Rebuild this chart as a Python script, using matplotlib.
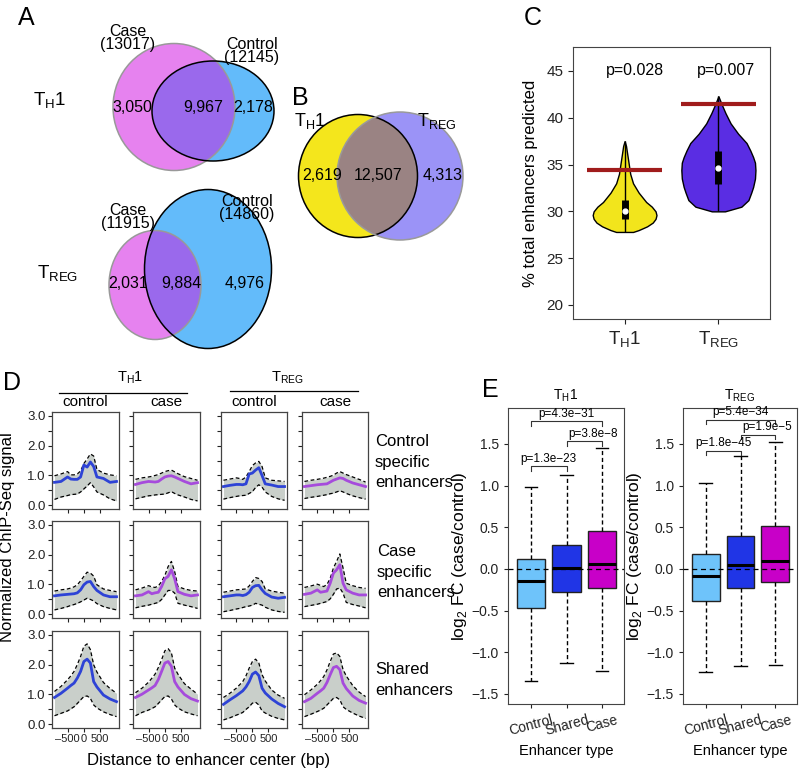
import matplotlib.pyplot as plt
from matplotlib.patches import Ellipse

plt.rcParams['font.family'] = ['Liberation Sans', 'DejaVu Sans']

# ---- panel A / B : venn counts ----
th1_counts = [3050, 9967, 2178]      # case only, shared, control only
th1_totals = [13017, 12145]          # case, control
treg_counts = [2031, 9884, 4976]
treg_totals = [11915, 14860]
b_counts = [2619, 12507, 4313]       # TH1 only, shared, TREG only

# ---- panel C : violin profiles (value, half width) ----
c_th1_y = [27.8, 28.0, 28.4, 28.8, 29.2, 29.6, 30.0, 30.5, 31.0, 31.5, 32.0, 33.0, 34.0, 35.0, 36.0, 37.0, 37.5]
c_th1_w = [0.09, 0.15, 0.24, 0.30, 0.33, 0.34, 0.33, 0.29, 0.23, 0.19, 0.15, 0.09, 0.06, 0.045, 0.03, 0.015, 0.0]
c_treg_y = [30.0, 30.5, 31.2, 32.0, 32.6, 33.5, 34.4, 35.2, 35.8, 36.5, 37.3, 38.3, 39.4, 40.5, 41.5, 42.3]
c_treg_w = [0.07, 0.245, 0.32, 0.35, 0.37, 0.39, 0.395, 0.39, 0.37, 0.34, 0.30, 0.21, 0.13, 0.075, 0.032, 0.0]
c_box = [[29.2, 30.0, 31.2], [32.9, 34.6, 36.4]]   # q1, median, q3
c_observed = [34.4, 41.5]
c_pvals = ["p=0.028", "p=0.007"]

# ---- panel D : ChIP-Seq profiles, columns = TH1 control, TH1 case, TREG control, TREG case ----
d_x = [-900, -700, -500, -400, -300, -200, -100, 0, 100, 200, 300, 400, 600, 800, 1000]

ctrl_spec_mean = [
    [0.77, 0.80, 0.95, 0.88, 0.87, 0.87, 0.95, 1.35, 1.28, 1.45, 1.30, 0.95, 0.90, 0.77, 0.80],
    [0.70, 0.76, 0.80, 0.79, 0.78, 0.80, 0.88, 0.95, 0.98, 0.99, 0.95, 0.90, 0.80, 0.72, 0.76],
    [0.63, 0.67, 0.70, 0.70, 0.69, 0.72, 1.05, 1.08, 1.18, 1.26, 1.00, 0.72, 0.68, 0.63, 0.63],
    [0.63, 0.66, 0.69, 0.70, 0.71, 0.72, 0.78, 0.84, 0.88, 0.92, 0.90, 0.84, 0.75, 0.69, 0.63],
]
ctrl_spec_upper = [
    [0.99, 1.05, 1.13, 1.02, 1.02, 1.05, 1.15, 1.40, 1.55, 1.72, 1.65, 1.20, 1.08, 1.02, 0.99],
    [0.87, 0.92, 0.95, 0.97, 1.00, 1.03, 1.08, 1.13, 1.16, 1.18, 1.12, 1.06, 0.96, 0.90, 0.84],
    [0.84, 0.88, 0.92, 0.90, 0.87, 0.95, 1.13, 1.33, 1.42, 1.47, 1.30, 0.92, 0.84, 0.82, 0.80],
    [0.80, 0.84, 0.87, 0.89, 0.91, 0.94, 0.97, 1.01, 1.08, 1.13, 1.08, 1.03, 0.95, 0.87, 0.78],
]
ctrl_spec_lower = [
    [0.20, 0.28, 0.33, 0.36, 0.37, 0.38, 0.45, 0.55, 0.65, 0.76, 0.62, 0.45, 0.35, 0.22, 0.15],
    [0.22, 0.27, 0.32, 0.33, 0.35, 0.36, 0.37, 0.38, 0.42, 0.46, 0.40, 0.35, 0.28, 0.20, 0.15],
    [0.21, 0.26, 0.30, 0.32, 0.33, 0.34, 0.40, 0.46, 0.60, 0.69, 0.61, 0.45, 0.30, 0.22, 0.17],
    [0.23, 0.27, 0.30, 0.32, 0.34, 0.36, 0.39, 0.41, 0.45, 0.49, 0.45, 0.40, 0.32, 0.26, 0.21],
]
case_spec_mean = [
    [0.62, 0.65, 0.67, 0.68, 0.69, 0.72, 0.82, 0.99, 1.08, 1.10, 0.93, 0.80, 0.65, 0.59, 0.59],
    [0.62, 0.65, 0.76, 0.69, 0.72, 0.74, 0.93, 1.19, 1.27, 1.49, 1.19, 0.76, 0.67, 0.62, 0.65],
    [0.59, 0.62, 0.65, 0.65, 0.63, 0.66, 0.74, 0.90, 0.96, 0.97, 0.82, 0.70, 0.58, 0.54, 0.57],
    [0.67, 0.71, 0.82, 0.74, 0.76, 0.78, 1.04, 1.38, 1.49, 1.66, 1.04, 0.82, 0.71, 0.65, 0.65],
]
case_spec_upper = [
    [0.78, 0.82, 0.85, 0.88, 0.92, 0.99, 1.12, 1.27, 1.41, 1.38, 1.28, 0.99, 0.85, 0.80, 0.76],
    [0.82, 0.88, 0.96, 0.92, 0.90, 0.95, 1.10, 1.30, 1.60, 1.77, 1.43, 0.93, 0.85, 0.80, 0.78],
    [0.74, 0.78, 0.82, 0.83, 0.84, 0.85, 0.95, 1.10, 1.23, 1.20, 1.10, 0.85, 0.78, 0.74, 0.71],
    [0.90, 0.95, 1.01, 0.97, 0.93, 1.00, 1.20, 1.55, 1.77, 2.02, 1.55, 1.04, 0.96, 0.90, 0.87],
]
case_spec_lower = [
    [0.15, 0.20, 0.26, 0.30, 0.33, 0.37, 0.42, 0.48, 0.54, 0.50, 0.45, 0.36, 0.26, 0.20, 0.15],
    [0.22, 0.27, 0.31, 0.34, 0.37, 0.40, 0.50, 0.65, 0.80, 0.80, 0.71, 0.37, 0.31, 0.26, 0.20],
    [0.09, 0.13, 0.18, 0.20, 0.23, 0.26, 0.28, 0.31, 0.37, 0.34, 0.31, 0.24, 0.15, 0.10, 0.07],
    [0.26, 0.30, 0.34, 0.37, 0.40, 0.43, 0.52, 0.67, 0.85, 0.88, 0.71, 0.40, 0.33, 0.28, 0.22],
]
shared_mean = [
    [0.90, 1.04, 1.21, 1.30, 1.38, 1.55, 1.77, 2.10, 2.18, 2.05, 1.43, 1.25, 0.98, 0.85, 0.76],
    [0.90, 1.01, 1.15, 1.22, 1.30, 1.50, 1.77, 2.05, 2.10, 1.94, 1.43, 1.25, 1.00, 0.86, 0.78],
    [0.67, 0.82, 0.96, 1.04, 1.12, 1.25, 1.43, 1.68, 1.75, 1.63, 1.21, 1.05, 0.85, 0.70, 0.59],
    [0.76, 0.87, 1.04, 1.12, 1.21, 1.40, 1.66, 1.90, 1.94, 1.83, 1.38, 1.20, 0.95, 0.80, 0.71],
]
shared_upper = [
    [1.10, 1.27, 1.49, 1.62, 1.77, 2.00, 2.27, 2.61, 2.69, 2.50, 1.99, 1.75, 1.40, 1.20, 1.04],
    [1.06, 1.21, 1.41, 1.54, 1.68, 1.90, 2.16, 2.46, 2.53, 2.39, 1.88, 1.68, 1.36, 1.18, 1.01],
    [0.90, 1.04, 1.21, 1.32, 1.43, 1.62, 1.88, 2.10, 2.18, 2.05, 1.66, 1.45, 1.15, 0.98, 0.87],
    [0.99, 1.15, 1.34, 1.46, 1.60, 1.82, 2.10, 2.35, 2.39, 2.27, 1.83, 1.62, 1.30, 1.08, 0.93],
]
shared_lower = [
    [0.29, 0.37, 0.45, 0.52, 0.59, 0.70, 0.82, 0.93, 0.95, 0.87, 0.65, 0.55, 0.42, 0.33, 0.26],
    [0.29, 0.40, 0.48, 0.53, 0.59, 0.70, 0.82, 0.93, 0.95, 0.85, 0.65, 0.55, 0.42, 0.35, 0.29],
    [0.15, 0.22, 0.31, 0.35, 0.40, 0.50, 0.59, 0.71, 0.74, 0.65, 0.45, 0.38, 0.27, 0.20, 0.15],
    [0.26, 0.34, 0.43, 0.48, 0.54, 0.65, 0.76, 0.87, 0.90, 0.82, 0.59, 0.50, 0.38, 0.28, 0.20],
]
d_col_names = ["control", "case", "control", "case"]
d_row_names = ["Control\nspecific\nenhancers", "Case\nspecific\nenhancers", "Shared\nenhancers"]

# ---- panel E : log2 FC boxplots  (whislo, q1, med, q3, whishi) ----
e_types = ["Control", "Shared", "Case"]
e_th1 = [[-1.35, -0.47, -0.14, 0.12, 0.98],
         [-1.13, -0.28, 0.01, 0.29, 1.13],
         [-1.22, -0.23, 0.06, 0.45, 1.45]]
e_treg = [[-1.24, -0.39, -0.08, 0.18, 1.03],
          [-1.17, -0.23, 0.05, 0.40, 1.35],
          [-1.15, -0.16, 0.10, 0.52, 1.52]]
e_th1_pairs = [(1, 2, 1.23, "p=1.3e\u221223"), (2, 3, 1.53, "p=3.8e\u22128"), (1, 3, 1.77, "p=4.3e\u221231")]
e_treg_pairs = [(1, 2, 1.42, "p=1.8e\u221245"), (2, 3, 1.61, "p=1.9e\u22125"), (1, 3, 1.79, "p=5.4e\u221234")]

TH1 = r"$\mathregular{T_H1}$"
TREG = r"$\mathregular{T_{REG}}$"

W, H = 800, 770
fig = plt.figure(figsize=(8, 7.7), dpi=100)


def px_axes(l, t, r, b):
    return fig.add_axes([l / W, 1 - b / H, (r - l) / W, (b - t) / H])


ov = px_axes(0, 0, W, H)
ov.set_xlim(0, W)
ov.set_ylim(H, 0)
ov.axis('off')


def venn(ax, c1, c2, fc1, fc2, fc12, ec1, ec2):
    e1 = Ellipse(c1[:2], c1[2], c1[3], fc=fc1, ec='none')
    e2 = Ellipse(c2[:2], c2[2], c2[3], fc=fc2, ec='none')
    ax.add_patch(e1)
    ax.add_patch(e2)
    mid = Ellipse(c1[:2], c1[2], c1[3], fc=fc12, ec='none')
    ax.add_patch(mid)
    mid.set_clip_path(e2)
    ax.add_patch(Ellipse(c1[:2], c1[2], c1[3], fc='none', ec=ec1, lw=1.1))
    ax.add_patch(Ellipse(c2[:2], c2[2], c2[3], fc='none', ec=ec2, lw=1.1))


pink, sky, mix = "#E682EF", "#63BBFA", "#9A69EC"
# A - TH1
venn(ov, (174, 107, 122, 127), (213, 111, 122, 100), pink, sky, mix, "#999999", "black")
ov.text(128, 38, f"Case\n({th1_totals[0]})", ha='center', va='center', fontsize=11.5, linespacing=0.85)
ov.text(252, 51, f"Control\n({th1_totals[1]})", ha='center', va='center', fontsize=11.5, linespacing=0.85)
for xx, n in zip([132, 203, 253], th1_counts):
    ov.text(xx, 108, f"{n:,}", ha='center', va='center', fontsize=11.5)
ov.text(50, 100, TH1, ha='center', va='center', fontsize=13.5)
# A - TREG
venn(ov, (155, 285, 92, 109), (208, 269, 127, 159), pink, sky, mix, "#999999", "black")
ov.text(128, 217, f"Case\n({treg_totals[0]})", ha='center', va='center', fontsize=11.5, linespacing=0.85)
ov.text(247, 208, f"Control\n({treg_totals[1]})", ha='center', va='center', fontsize=11.5, linespacing=0.85)
for xx, n in zip([128, 181, 245], treg_counts):
    ov.text(xx, 283, f"{n:,}", ha='center', va='center', fontsize=11.5)
ov.text(58, 273, TREG, ha='center', va='center', fontsize=13.5)
ov.text(26, 18, "A", ha='center', va='center', fontsize=18)

# B
venn(ov, (358, 176, 119, 123), (400, 176, 126, 128), "#F4E61C", "#9B93F7", "#9A8383", "black", "#9A9A9A")
for xx, n in zip([322, 378, 443], b_counts):
    ov.text(xx, 176, f"{n:,}", ha='center', va='center', fontsize=11.5)
ov.text(310, 121, TH1, ha='center', va='center', fontsize=13)
ov.text(437, 121, TREG, ha='center', va='center', fontsize=13)
ov.text(300, 98, "B", ha='center', va='center', fontsize=18)

# C
axc = px_axes(573, 47, 770, 319)
for pos, ys, ws, col in [(1, c_th1_y, c_th1_w, "#F2E51C"), (2, c_treg_y, c_treg_w, "#5A2DE3")]:
    axc.fill_betweenx(ys, [pos - w for w in ws], [pos + w for w in ws], fc=col, ec='black', lw=1, zorder=2)
    axc.vlines(pos, ys[0], ys[-1], color='black', lw=1, zorder=3)
    q1, med, q3 = c_box[pos - 1]
    axc.vlines(pos, q1, q3, color='black', lw=5, zorder=4)
    axc.plot(pos, med, 'o', ms=3.5, mfc='white', mec='white', zorder=5)
    axc.hlines(c_observed[pos - 1], pos - 0.4, pos + 0.4, color="#A01C1C", lw=3, zorder=6)
axc.text(1.11, 45, c_pvals[0], ha='center', va='center', fontsize=11.5)
axc.text(2.08, 45, c_pvals[1], ha='center', va='center', fontsize=11.5)
axc.set_xlim(0.45, 2.55)
axc.set_ylim(18.5, 47.56)
axc.set_yticks([20, 25, 30, 35, 40, 45])
axc.set_xticks([1, 2])
axc.tick_params(labelsize=11, colors='#222222')
axc.set_xticklabels([TH1, TREG], fontsize=13.5)
axc.set_ylabel("% total enhancers predicted", fontsize=12, labelpad=6)
for s in axc.spines.values():
    s.set_color('#444444')
ov.text(533, 18, "C", ha='center', va='center', fontsize=18)

# D
d_cols = [(52, 119), (133, 200), (221, 287), (302, 368)]
d_rows = [(412, 509), (521, 618), (631, 728)]
d_means = [ctrl_spec_mean, case_spec_mean, shared_mean]
d_uppers = [ctrl_spec_upper, case_spec_upper, shared_upper]
d_lowers = [ctrl_spec_lower, case_spec_lower, shared_lower]
for r, (top, bot) in enumerate(d_rows):
    for c, (lft, rgt) in enumerate(d_cols):
        ax = px_axes(lft, top, rgt, bot)
        lo, up, mn = d_lowers[r][c], d_uppers[r][c], d_means[r][c]
        ax.fill_between(d_x, lo, up, color="#C9CFCA", lw=0)
        ax.plot(d_x, up, color='black', ls='--', lw=0.9, dashes=(3, 2))
        ax.plot(d_x, lo, color='black', ls='--', lw=0.9, dashes=(3, 2))
        ax.plot(d_x, mn, color="#2E43D6" if c % 2 == 0 else "#A64BDC", lw=2)
        ax.set_xlim(-976, 1076)
        ax.set_ylim(-0.12, 3.12)
        ax.set_yticks([0, 0.5, 1, 1.5, 2, 2.5, 3])
        ax.set_xticks([-500, 0, 500])
        if c == 0:
            ax.set_yticklabels(["0.0", "", "1.0", "", "2.0", "", "3.0"])
        else:
            ax.set_yticklabels([])
        if r == 2:
            ax.set_xticklabels(["\u2013500", "0", "500"], fontsize=8)
        else:
            ax.set_xticklabels([])
        ax.tick_params(axis='y', labelsize=9.5)
        ax.tick_params(length=3, width=0.8, pad=1.5, colors='#222222')
        for s in ax.spines.values():
            s.set_color('#444444')
            s.set_linewidth(0.9)
for (lft, rgt), name in zip(d_cols, d_col_names):
    ov.text((lft + rgt) / 2, 402, name, ha='center', va='center', fontsize=11)
ov.plot([59, 187], [393, 393], color='black', lw=0.9)
ov.plot([230, 358], [391, 391], color='black', lw=0.9)
ov.text(130, 378, TH1, ha='center', va='center', fontsize=10.5)
ov.text(287, 378, TREG, ha='center', va='center', fontsize=10.5)
for yy, xx, name in zip([462, 572, 680], [375, 377, 375], d_row_names):
    ov.text(xx, yy, name, ha='left', va='center', fontsize=12, linespacing=1.45)
ov.text(8, 537, "Normalized ChIP-Seq signal", rotation=90, ha='center', va='center', fontsize=12)
ov.text(209, 760, "Distance to enhancer center (bp)", ha='center', va='center', fontsize=12)
ov.text(12, 383, "D", ha='center', va='center', fontsize=18)

# E
box_cols = ["#6EC3FA", "#2035E6", "#C800C8"]
for (lft, rgt), data, pairs, title in [((508, 624), e_th1, e_th1_pairs, TH1),
                                       ((683, 797), e_treg, e_treg_pairs, TREG)]:
    ax = px_axes(lft, 408, rgt, 704)
    stats = [dict(whislo=d[0], q1=d[1], med=d[2], q3=d[3], whishi=d[4], fliers=[]) for d in data]
    bp = ax.bxp(stats, positions=[1, 2, 3], widths=0.8, patch_artist=True, showfliers=False,
                boxprops=dict(lw=1, ec='#222222'),
                whiskerprops=dict(ls=(0, (3, 2)), lw=1),
                capprops=dict(lw=1), capwidths=0.36,
                medianprops=dict(color='black', lw=2.2))
    for patch, col in zip(bp['boxes'], box_cols):
        patch.set_facecolor(col)
    ax.axhline(0, color='black', ls=(0, (4, 3)), lw=0.9, zorder=5)
    for a, b, yb, lab in pairs:
        ax.plot([a, a, b, b], [yb - 0.05, yb, yb, yb - 0.05], color='#333333', lw=0.8)
        ax.text((a + b) / 2 + (0.25 if a == 2 else 0), yb + 0.09, lab,
                ha='center', va='center', fontsize=8.5)
    ax.set_xlim(0.35, 3.62)
    ax.set_ylim(-1.62, 1.93)
    ax.set_yticks([-1.5, -1, -0.5, 0, 0.5, 1, 1.5])
    ax.set_yticklabels(["\u22121.5", "\u22121.0", "\u22120.5", "0.0", "0.5", "1.0", "1.5"])
    ax.set_xticks([1, 2, 3])
    ax.set_xticklabels(e_types, rotation=15, fontsize=10)
    ax.tick_params(labelsize=10, length=3, colors='#222222')
    ax.set_ylabel(r"log$_\mathregular{2}$ FC (case/control)", fontsize=12.5, labelpad=2)
    ax.set_xlabel("Enhancer type", fontsize=10.5)
    ax.set_title(title, fontsize=10, pad=6)
    for s in ax.spines.values():
        s.set_color('#444444')
ov.text(490, 390, "E", ha='center', va='center', fontsize=18)

fig.savefig("out.png", dpi=100)
